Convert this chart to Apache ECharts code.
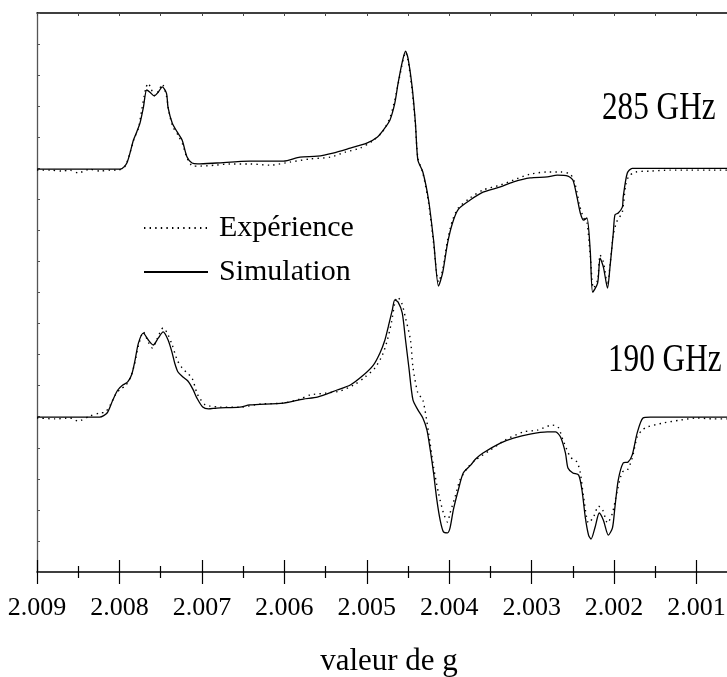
<!DOCTYPE html>
<html>
<head>
<meta charset="utf-8">
<script src="https://cdn.jsdelivr.net/npm/echarts@6/dist/echarts.min.js"></script>
<style>
html,body{margin:0;padding:0;background:#fff;overflow:hidden;width:727px;height:677px;}
#chart{width:779px;height:677px;}
</style>
</head>
<body>
<div id="chart"></div>
<script>
// ---- axis definition (g values, inverted axis) ----
const xMin = 2.000;
const xMax = 2.009;
const xInterval = 0.001;
const yMin = 0;
const yMax = 18;
const yInterval = 1;

const seriesNames = ['Expérience', 'Simulation'];
const spectrumLabels = ['285 GHz', '190 GHz'];
const axisTitle = 'valeur de g';

// ---- 285 GHz spectrum: [g, intensity] ----
const sim285 = [[2.00900,12.97],[2.00848,12.97],[2.00799,12.97],[2.00791,13.17],[2.00783,13.91],[2.00779,14.17],[2.00775,14.46],[2.00771,14.95],[2.00767,15.52],[2.00763,15.45],[2.00758,15.33],[2.00753,15.45],[2.00748,15.62],[2.00743,15.42],[2.00741,14.95],[2.00736,14.46],[2.00730,14.17],[2.00724,13.91],[2.00718,13.36],[2.00712,13.17],[2.00705,13.14],[2.00682,13.17],[2.00642,13.23],[2.00601,13.23],[2.00581,13.36],[2.00560,13.39],[2.00541,13.49],[2.00520,13.65],[2.00500,13.81],[2.00487,14.01],[2.00480,14.23],[2.00472,14.55],[2.00466,15.10],[2.00462,15.74],[2.00457,16.42],[2.00453,16.77],[2.00450,16.55],[2.00445,15.62],[2.00441,14.46],[2.00438,13.26],[2.00432,12.88],[2.00425,11.97],[2.00419,10.69],[2.00413,9.21],[2.00408,9.63],[2.00402,10.59],[2.00396,11.24],[2.00389,11.68],[2.00375,11.97],[2.00359,12.23],[2.00338,12.40],[2.00322,12.56],[2.00302,12.69],[2.00281,12.72],[2.00269,12.78],[2.00256,12.75],[2.00250,12.62],[2.00245,12.07],[2.00241,11.56],[2.00237,11.33],[2.00233,11.40],[2.00229,10.37],[2.00226,9.01],[2.00220,9.30],[2.00217,10.11],[2.00213,9.82],[2.00208,9.14],[2.00205,9.82],[2.00201,10.91],[2.00199,11.50],[2.00195,11.56],[2.00190,11.75],[2.00189,12.07],[2.00184,12.85],[2.00178,13.00],[2.00168,13.00],[2.00063,13.00]];
const exp285 = [[2.00900,12.94],[2.00884,12.94],[2.00870,12.91],[2.00860,12.94],[2.00850,12.85],[2.00836,12.97],[2.00824,12.91],[2.00811,12.94],[2.00802,12.94],[2.00793,13.07],[2.00787,13.52],[2.00782,13.97],[2.00777,14.29],[2.00773,14.87],[2.00768,15.58],[2.00765,15.74],[2.00762,15.58],[2.00757,15.33],[2.00752,15.52],[2.00748,15.71],[2.00743,15.33],[2.00740,14.81],[2.00735,14.33],[2.00729,14.07],[2.00723,13.75],[2.00718,13.33],[2.00711,13.07],[2.00702,13.07],[2.00684,13.10],[2.00666,13.14],[2.00642,13.14],[2.00617,13.10],[2.00593,13.20],[2.00569,13.30],[2.00544,13.36],[2.00526,13.52],[2.00508,13.65],[2.00493,13.88],[2.00481,14.17],[2.00472,14.62],[2.00466,15.20],[2.00461,15.84],[2.00456,16.48],[2.00453,16.74],[2.00450,16.48],[2.00445,15.52],[2.00441,14.39],[2.00438,13.33],[2.00432,12.85],[2.00425,11.88],[2.00419,10.59],[2.00413,9.34],[2.00408,9.72],[2.00402,10.69],[2.00396,11.33],[2.00389,11.72],[2.00375,12.04],[2.00359,12.30],[2.00338,12.46],[2.00322,12.62],[2.00302,12.81],[2.00281,12.88],[2.00265,12.88],[2.00253,12.81],[2.00247,12.46],[2.00242,11.82],[2.00237,11.40],[2.00233,11.27],[2.00229,10.21],[2.00225,9.14],[2.00220,9.40],[2.00217,10.21],[2.00213,9.98],[2.00208,9.24],[2.00205,9.88],[2.00201,10.85],[2.00197,11.27],[2.00194,11.40],[2.00190,11.59],[2.00186,12.46],[2.00182,12.75],[2.00174,12.88],[2.00156,12.91],[2.00132,12.94],[2.00108,12.94],[2.00080,12.94],[2.00063,12.94]];

// ---- 190 GHz spectrum: [g, intensity] ----
const sim190 = [[2.00900,4.99],[2.00824,4.99],[2.00815,5.12],[2.00808,5.54],[2.00802,5.86],[2.00796,6.02],[2.00790,6.12],[2.00785,6.37],[2.00781,6.83],[2.00777,7.37],[2.00771,7.69],[2.00765,7.47],[2.00759,7.31],[2.00753,7.53],[2.00747,7.73],[2.00741,7.47],[2.00736,7.05],[2.00733,6.73],[2.00729,6.44],[2.00723,6.28],[2.00717,6.15],[2.00711,5.89],[2.00706,5.60],[2.00699,5.31],[2.00692,5.25],[2.00682,5.28],[2.00654,5.31],[2.00642,5.38],[2.00601,5.44],[2.00577,5.57],[2.00560,5.63],[2.00536,5.86],[2.00520,6.02],[2.00504,6.34],[2.00492,6.66],[2.00484,7.05],[2.00478,7.47],[2.00474,7.89],[2.00469,8.44],[2.00466,8.76],[2.00462,8.69],[2.00457,8.34],[2.00453,7.47],[2.00449,6.60],[2.00444,5.54],[2.00438,5.22],[2.00432,4.96],[2.00427,4.57],[2.00423,3.93],[2.00419,3.19],[2.00415,2.32],[2.00411,1.67],[2.00407,1.29],[2.00402,1.26],[2.00399,1.42],[2.00395,2.00],[2.00389,2.64],[2.00383,3.19],[2.00374,3.44],[2.00368,3.64],[2.00359,3.83],[2.00338,4.15],[2.00322,4.31],[2.00302,4.44],[2.00281,4.51],[2.00271,4.51],[2.00265,4.35],[2.00259,3.83],[2.00256,3.35],[2.00250,3.19],[2.00243,3.12],[2.00239,2.64],[2.00235,1.77],[2.00231,1.19],[2.00228,1.06],[2.00223,1.45],[2.00218,1.90],[2.00213,1.67],[2.00207,1.19],[2.00202,1.42],[2.00199,2.09],[2.00195,2.96],[2.00189,3.51],[2.00183,3.54],[2.00178,3.77],[2.00172,4.48],[2.00165,4.96],[2.00156,4.99],[2.00063,4.99]];
const exp190 = [[2.00900,4.96],[2.00878,4.93],[2.00860,4.96],[2.00850,4.86],[2.00836,5.02],[2.00824,5.12],[2.00817,5.15],[2.00811,5.38],[2.00805,5.70],[2.00799,5.89],[2.00793,5.99],[2.00787,6.25],[2.00782,6.66],[2.00777,7.28],[2.00771,7.73],[2.00765,7.40],[2.00760,7.21],[2.00754,7.53],[2.00747,7.86],[2.00742,7.69],[2.00736,7.31],[2.00730,6.83],[2.00724,6.57],[2.00718,6.41],[2.00712,6.25],[2.00706,5.76],[2.00702,5.57],[2.00696,5.38],[2.00690,5.34],[2.00678,5.31],[2.00654,5.31],[2.00629,5.41],[2.00601,5.44],[2.00581,5.57],[2.00569,5.70],[2.00550,5.76],[2.00532,5.83],[2.00514,6.05],[2.00502,6.28],[2.00490,6.57],[2.00481,6.99],[2.00475,7.47],[2.00470,8.05],[2.00466,8.66],[2.00463,8.85],[2.00458,8.69],[2.00453,8.18],[2.00447,7.47],[2.00444,6.60],[2.00438,5.76],[2.00432,5.54],[2.00425,4.48],[2.00419,3.38],[2.00413,2.54],[2.00407,1.90],[2.00402,1.61],[2.00399,1.90],[2.00393,2.41],[2.00387,2.96],[2.00378,3.35],[2.00368,3.61],[2.00350,3.93],[2.00332,4.25],[2.00310,4.51],[2.00293,4.57],[2.00275,4.73],[2.00268,4.67],[2.00262,4.25],[2.00253,3.70],[2.00245,3.54],[2.00241,3.19],[2.00237,2.41],[2.00231,1.58],[2.00225,1.77],[2.00219,2.12],[2.00214,2.00],[2.00208,1.58],[2.00202,1.90],[2.00196,2.64],[2.00190,3.22],[2.00184,3.28],[2.00178,3.67],[2.00172,4.35],[2.00166,4.57],[2.00160,4.67],[2.00140,4.80],[2.00120,4.89],[2.00099,4.96],[2.00080,4.93],[2.00063,4.93]];

const FONT = '"Liberation Serif", "Times New Roman", serif';
const chart = echarts.init(document.getElementById('chart'), null, {renderer: 'canvas'});

const baseX = {
  type: 'value', min: xMin, max: xMax, interval: xInterval, inverse: true,
  splitLine: {show: false}, gridIndex: 0
};

const dotted = {color: '#000', width: 1.4, type: [1.4, 4.2]};
const solid = {color: '#000', width: 1.3, type: 'solid'};

function line(name, data, style) {
  return {
    name: name, type: 'line', data: data, xAxisIndex: 0, yAxisIndex: 0,
    symbol: 'none', showSymbol: false, smooth: 0.25, lineStyle: style,
    itemStyle: {color: '#000'}, silent: true, animation: false, z: name === seriesNames[1] ? 3 : 2
  };
}

chart.setOption({
  animation: false,
  backgroundColor: '#fff',
  grid: {left: 37, right: 0, top: 13, bottom: 105, containLabel: false, outerBoundsMode: 'none'},
  legend: {
    data: seriesNames,
    orient: 'vertical', left: 143, top: 213, padding: 0,
    itemWidth: 64, itemHeight: 32, itemGap: 14,
    itemStyle: {color: 'rgba(0,0,0,0)', borderColor: 'rgba(0,0,0,0)', borderWidth: 0},
    textStyle: {fontFamily: FONT, fontSize: 30, color: '#000', padding: [0, 0, 0, 6]},
    selectedMode: false
  },
  xAxis: [
    Object.assign({}, baseX, {
      position: 'bottom',
      axisLine: {show: true, lineStyle: {color: '#000', width: 1.5}},
      axisTick: {show: true, inside: false, length: 12, lineStyle: {color: '#000', width: 1.2}},
      minorTick: {show: true, splitNumber: 2, length: 6, lineStyle: {color: '#000', width: 1.2}},
      axisLabel: {show: true, margin: 23, fontFamily: FONT, fontSize: 26, color: '#000',
        formatter: v => v.toFixed(3)},
      name: axisTitle, nameLocation: 'middle', nameGap: 74,
      nameTextStyle: {fontFamily: FONT, fontSize: 31, color: '#000', padding: [0, 38, 0, 0]}
    }),
    Object.assign({}, baseX, {
      position: 'bottom',
      axisLine: {show: false},
      axisTick: {show: true, inside: true, length: 12, lineStyle: {color: '#000', width: 1.2}},
      minorTick: {show: true, splitNumber: 2, length: 6, lineStyle: {color: '#000', width: 1.2}},
      axisLabel: {show: false}
    }),
    Object.assign({}, baseX, {
      position: 'top',
      axisLine: {show: true, lineStyle: {color: '#000', width: 1.5}},
      axisTick: {show: true, inside: true, length: 3, lineStyle: {color: '#444', width: 1}},
      minorTick: {show: true, splitNumber: 2, length: 3, lineStyle: {color: '#444', width: 1}},
      axisLabel: {show: false}
    })
  ],
  yAxis: [{
    type: 'value', min: yMin, max: yMax, interval: yInterval, position: 'left',
    axisLine: {show: true, lineStyle: {color: '#555', width: 1.3}},
    axisTick: {show: true, inside: true, length: 3, lineStyle: {color: '#555', width: 1}},
    axisLabel: {show: false},
    splitLine: {show: false}
  }],
  graphic: [
    {type: 'text', x: 602, y: 108, scaleX: 0.78, silent: true,
      style: {text: spectrumLabels[0], font: '40px ' + FONT, fill: '#000', verticalAlign: 'middle', align: 'left'}},
    {type: 'text', x: 608, y: 360, scaleX: 0.78, silent: true,
      style: {text: spectrumLabels[1], font: '40px ' + FONT, fill: '#000', verticalAlign: 'middle', align: 'left'}}
  ],
  series: [
    line(seriesNames[0], exp285, dotted),
    line(seriesNames[1], sim285, solid),
    line(seriesNames[0], exp190, dotted),
    line(seriesNames[1], sim190, solid)
  ]
});
</script>
</body>
</html>
